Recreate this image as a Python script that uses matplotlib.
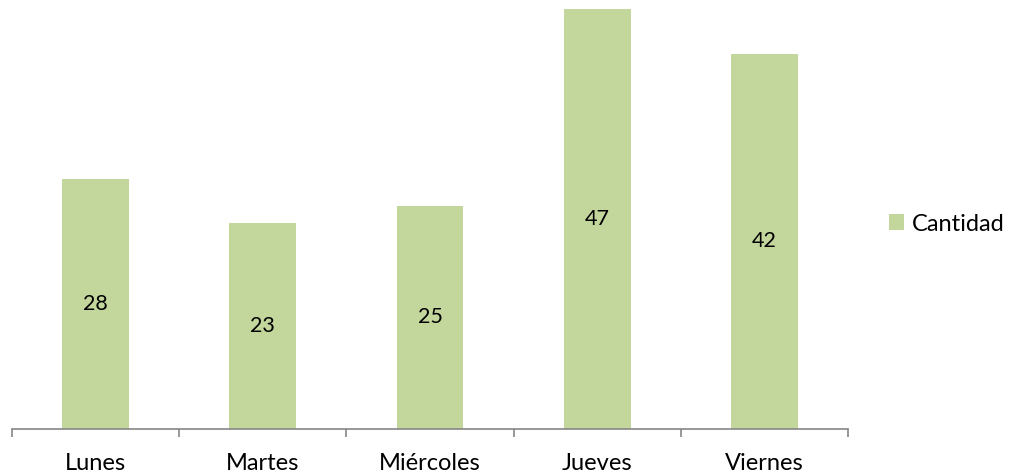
import matplotlib
matplotlib.use("Agg")
import matplotlib.pyplot as plt

categories = ["Lunes", "Martes", "Miércoles", "Jueves", "Viernes"]
values = [28, 23, 25, 47, 42]
series_name = "Cantidad"

plt.rcParams['font.family'] = ['Lato', 'DejaVu Sans']

W, H = 1018, 475
fig = plt.figure(figsize=(W/100, H/100), dpi=100)
ax = fig.add_axes([12/W, (H-429)/H, 836/W, 429/H])

x = list(range(len(categories)))
bars = ax.bar(x, values, width=0.4, color="#C3D69B", label=series_name, zorder=2)
for xi, v in zip(x, values):
    ax.text(xi, v/2, str(v), ha="center", va="center", fontsize=15.5, color="black")

ax.set_xlim(-0.5, len(categories)-0.5)
ax.set_ylim(0, 48)
for s in ["top", "right", "left"]:
    ax.spines[s].set_visible(False)
ax.spines["bottom"].set_color("#868686")
ax.spines["bottom"].set_linewidth(1.2)
ax.set_yticks([])
ax.set_xticks([i - 0.5 for i in range(len(categories)+1)])
ax.set_xticklabels([])
ax.set_xticks(x, minor=True)
ax.set_xticklabels(categories, minor=True, fontsize=17)
ax.tick_params(axis="x", which="major", length=6, color="#868686", width=1.2, direction="out")
ax.tick_params(axis="x", which="minor", length=0, pad=17)

fig.legend(handles=[bars], labels=[series_name], loc="center left",
           bbox_to_anchor=(889/W, 1 - 224/H), frameon=False, fontsize=17,
           handlelength=0.64, handleheight=0.64, handletextpad=0.34,
           borderpad=0, borderaxespad=0)

fig.savefig("out.png", dpi=100)
